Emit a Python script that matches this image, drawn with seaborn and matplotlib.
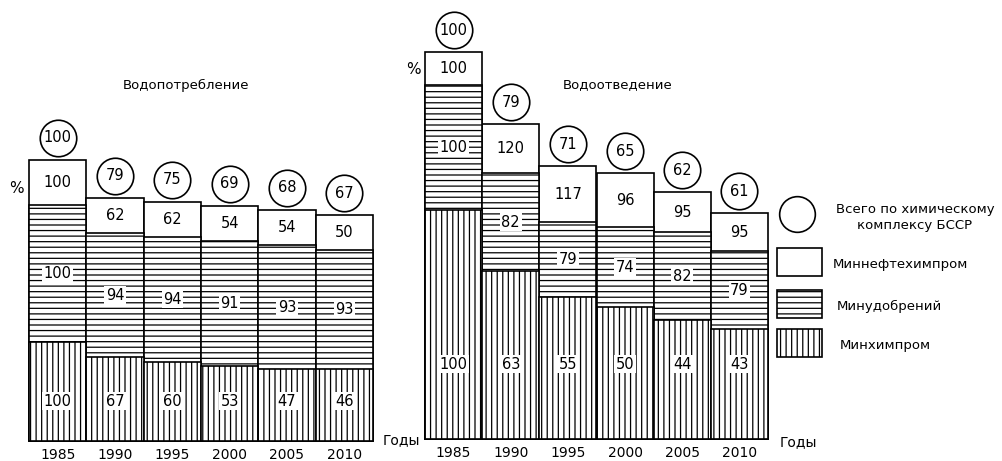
import matplotlib
matplotlib.use("Agg")
import matplotlib.pyplot as plt
import numpy as np
import pandas as pd
import seaborn as sns
from matplotlib.patches import Rectangle

years = ["1985", "1990", "1995", "2000", "2005", "2010"]

# Водопотребление: индексы (1985 = 100)
potr_himprom_idx = [100, 67, 60, 53, 47, 46]
potr_udobr_idx = [100, 94, 94, 91, 93, 93]
potr_neft_idx = [100, 62, 62, 54, 54, 50]
potr_total_idx = [100, 79, 75, 69, 68, 67]
# высоты сегментов на рисунке (усл. ед.)
potr_himprom_h = [99, 84, 79, 75, 72, 72]
potr_udobr_h = [137, 124, 125, 125, 124, 119]
potr_neft_h = [45, 35, 35, 35, 35, 35]

# Водоотведение
otv_himprom_idx = [100, 63, 55, 50, 44, 43]
otv_udobr_idx = [100, 82, 79, 74, 82, 79]
otv_neft_idx = [100, 120, 117, 96, 95, 95]
otv_total_idx = [100, 79, 71, 65, 62, 61]
otv_himprom_h = [229, 168, 142, 132, 119, 110]
otv_udobr_h = [125, 98, 75, 80, 88, 78]
otv_neft_h = [33, 49, 56, 54, 40, 38]

sns.set_theme(style="white")
plt.rcParams["font.family"] = ["DejaVu Sans"]
plt.rcParams["hatch.linewidth"] = 0.9
plt.rcParams["text.color"] = "black"
plt.rcParams["xtick.color"] = "black"
plt.rcParams["xtick.labelcolor"] = "black"

FIG_W, FIG_H = 1003, 461
fig = plt.figure(figsize=(FIG_W / 100, FIG_H / 100), dpi=100)
fig.patch.set_facecolor("white")

NUM_FS = 10.5


def draw_panel(ax, h_bot, h_mid, h_top, i_bot, i_mid, i_top, i_tot, ymax, bot_label_y):
    df = pd.DataFrame({"year": years, "bot": h_bot, "mid": h_mid, "top": h_top})
    df["lvl2"] = df["bot"] + df["mid"]
    df["lvl3"] = df["lvl2"] + df["top"]

    common = dict(data=df, x="year", width=1.0, color="white", saturation=1,
                  edgecolor="black", linewidth=1.2, errorbar=None, ax=ax)
    sns.barplot(y="lvl3", **common)
    sns.barplot(y="lvl2", hatch="---", **common)
    sns.barplot(y="bot", hatch="|||", **common)
    for p in ax.patches:
        p.set_clip_on(False)

    pos = np.arange(len(years))
    for i in pos:
        ax.text(i, bot_label_y, str(i_bot[i]), ha="center", va="center",
                fontsize=NUM_FS, zorder=4,
                bbox=dict(facecolor="white", edgecolor="none", pad=1.0))
        ax.text(i, df["bot"][i] + df["mid"][i] / 2, str(i_mid[i]), ha="center",
                va="center", fontsize=NUM_FS, zorder=4,
                bbox=dict(facecolor="white", edgecolor="none", pad=1.0))
        ax.text(i, df["lvl2"][i] + df["top"][i] / 2, str(i_top[i]), ha="center",
                va="center", fontsize=NUM_FS, zorder=4)

    cy = df["lvl3"] + 22
    ax.scatter(pos, cy, s=690, facecolor="white", edgecolor="black",
               linewidth=1.2, zorder=5, clip_on=False)
    for i in pos:
        ax.text(i, cy[i], str(i_tot[i]), ha="center", va="center",
                fontsize=NUM_FS, zorder=6)

    ax.set_xlim(-0.5, len(years) - 0.5)
    ax.set_ylim(0, ymax)
    ax.set_yticks([])
    ax.set_xlabel("")
    ax.set_ylabel("")
    ax.tick_params(axis="x", length=0, pad=5, labelsize=10, labelcolor="black")
    for s in ax.spines.values():
        s.set_visible(False)
    ax.patch.set_alpha(0)


ax1 = fig.add_axes([29 / FIG_W, 20 / FIG_H, 344 / FIG_W, 441 / FIG_H])
draw_panel(ax1, potr_himprom_h, potr_udobr_h, potr_neft_h,
           potr_himprom_idx, potr_udobr_idx, potr_neft_idx, potr_total_idx,
           441, 40)

ax2 = fig.add_axes([425 / FIG_W, 22 / FIG_H, 343 / FIG_W, 439 / FIG_H])
draw_panel(ax2, otv_himprom_h, otv_udobr_h, otv_neft_h,
           otv_himprom_idx, otv_udobr_idx, otv_neft_idx, otv_total_idx,
           439, 75)

# подписи и легенда в пиксельных координатах
ov = fig.add_axes([0, 0, 1, 1], zorder=10)
ov.set_xlim(0, FIG_W)
ov.set_ylim(FIG_H, 0)
ov.axis("off")

ov.text(186, 85, "Водопотребление", ha="center", va="center", fontsize=9.5)
ov.text(618, 85, "Водоотведение", ha="center", va="center", fontsize=9.5)
ov.text(16, 188, "%", ha="center", va="center", fontsize=11)
ov.text(413, 70, "%", ha="center", va="center", fontsize=11)
ov.text(383, 440, "Годы", ha="left", va="center", fontsize=10)
ov.text(780, 442, "Годы", ha="left", va="center", fontsize=10)

ov.scatter([797], [214], s=660, facecolor="white", edgecolor="black",
           linewidth=1.2, clip_on=False)
ov.text(915, 217, "Всего по химическому\nкомплексу БССР", ha="center",
        va="center", fontsize=9.5, linespacing=1.3)

swatches = [("", 248, "Миннефтехимпром", 833),
            ("---", 290, "Минудобрений", 837),
            ("|||", 329, "Минхимпром", 840)]
for hatch, y0, label, tx in swatches:
    ov.add_patch(Rectangle((777, y0), 45, 28, facecolor="white",
                           edgecolor="black", linewidth=1.2, hatch=hatch or None))
    ov.text(tx, y0 + 16, label, ha="left", va="center", fontsize=9.5)

fig.savefig("out.png", dpi=100, facecolor="white")
